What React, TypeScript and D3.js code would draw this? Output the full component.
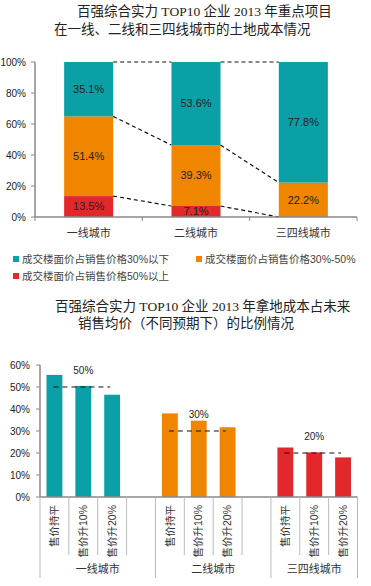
import React, { useRef, useEffect } from "react";
import * as d3 from "d3";

// chart 1: land cost share by city tier (stacked)
const cityTiers = ["一线城市", "二线城市", "三四线城市"];
const above50 = [13.5, 7.1, 0];
const mid30to50 = [51.4, 39.3, 22.2];
const below30 = [35.1, 53.6, 77.8];
const legendNames = [
  "成交楼面价占销售价格30%以下",
  "成交楼面价占销售价格30%-50%",
  "成交楼面价占销售价格50%以上",
];
const stackTicks = [0, 20, 40, 60, 80, 100];

// chart 2: land cost vs future average price
const scenarios = ["售价持平", "售价升10%", "售价升20%"];
const tier1Ratio = [55.5, 50.5, 46.5];
const tier2Ratio = [38.0, 34.7, 31.7];
const tier3Ratio = [22.5, 20.3, 18.0];
const refLines = [50, 30, 20];
const ratioTicks = [0, 10, 20, 30, 40, 50, 60];

const TEAL = "#0b9fa6";
const ORANGE = "#f08600";
const RED = "#e3282c";
const SANS = "'Liberation Sans', 'Noto Sans CJK SC', sans-serif";
const TITLE = "'Liberation Serif', 'Noto Sans CJK SC', serif";

const App = () => {
  const svgRef = useRef<SVGSVGElement>(null);

  useEffect(() => {
    const svg = d3.select(svgRef.current);
    svg.selectAll("*").remove();

    // ---------- titles ----------
    const titles = [
      { t: "百强综合实力 TOP10 企业 2013 年重点项目", x: 77, y: 16 },
      { t: "在一线、二线和三四线城市的土地成本情况", x: 54, y: 34 },
      { t: "百强综合实力 TOP10 企业 2013 年拿地成本占未来", x: 55, y: 311 },
      { t: "销售均价（不同预期下）的比例情况", x: 78, y: 328 },
    ];
    svg
      .append("g")
      .selectAll("text")
      .data(titles)
      .enter()
      .append("text")
      .attr("x", (d) => d.x)
      .attr("y", (d) => d.y)
      .attr("font-family", TITLE)
      .attr("font-size", 13.5)
      .attr("fill", "#222")
      .text((d) => d.t);

    // ---------- chart 1 ----------
    const x1 = d3.scaleBand().domain(cityTiers).range([35, 357]).paddingInner(0.543).paddingOuter(0.2715);
    const y1 = d3.scaleLinear().domain([0, 100]).range([217, 62]);
    const c1 = svg.append("g");

    const rows = cityTiers.map((c, i) => ({ city: c, red: above50[i], orange: mid30to50[i], teal: below30[i] }));
    const keys = ["red", "orange", "teal"];
    const colors: Record<string, string> = { red: RED, orange: ORANGE, teal: TEAL };
    const series = d3.stack<any>().keys(keys)(rows);

    series.forEach((s) => {
      c1.append("g")
        .selectAll("rect")
        .data(s)
        .enter()
        .append("rect")
        .attr("x", (d: any) => x1(d.data.city)!)
        .attr("width", x1.bandwidth())
        .attr("y", (d) => y1(d[1]))
        .attr("height", (d) => y1(d[0]) - y1(d[1]))
        .attr("fill", colors[s.key]);
      c1.append("g")
        .selectAll("text")
        .data(s.filter((d) => d[1] - d[0] > 0))
        .enter()
        .append("text")
        .attr("x", (d: any) => x1(d.data.city)! + x1.bandwidth() / 2)
        .attr("y", (d) => (y1(d[0]) + y1(d[1])) / 2)
        .attr("dy", "0.35em")
        .attr("text-anchor", "middle")
        .attr("font-family", SANS)
        .attr("font-size", 11)
        .attr("fill", "#222")
        .text((d) => `${d[1] - d[0] >= 0 ? (d[1] - d[0]).toFixed(1) : ""}%`);

      // dashed connectors between tops of the same segment
      const tops = s.map((d) => d[1]);
      for (let i = 0; i < tops.length - 1; i++) {
        c1.append("line")
          .attr("x1", x1(cityTiers[i])! + x1.bandwidth())
          .attr("x2", x1(cityTiers[i + 1])!)
          .attr("y1", y1(tops[i]))
          .attr("y2", y1(tops[i + 1]))
          .attr("stroke", "#111")
          .attr("stroke-width", 1.2)
          .attr("stroke-dasharray", "4,3");
      }
    });

    // y axis
    const ax1 = c1.append("g").attr("transform", "translate(35,0)");
    ax1.append("line").attr("y1", y1(0)).attr("y2", y1(100)).attr("stroke", "#888").attr("stroke-width", 1.5);
    stackTicks.forEach((t) => {
      ax1.append("line").attr("x1", -4).attr("x2", 0).attr("y1", y1(t)).attr("y2", y1(t)).attr("stroke", "#888");
      ax1.append("text")
        .attr("x", -9)
        .attr("y", y1(t))
        .attr("dy", "0.35em")
        .attr("text-anchor", "end")
        .attr("font-family", SANS)
        .attr("font-size", 10)
        .attr("fill", "#222")
        .text(`${t}%`);
    });
    // x axis
    c1.append("line").attr("x1", 35).attr("x2", 357).attr("y1", y1(0)).attr("y2", y1(0)).attr("stroke", "#888").attr("stroke-width", 1.5);
    const step1 = x1.step();
    [0, 1, 2, 3].forEach((i) => {
      c1.append("line")
        .attr("x1", 35 + i * step1)
        .attr("x2", 35 + i * step1)
        .attr("y1", y1(0))
        .attr("y2", y1(0) + 4)
        .attr("stroke", "#888");
    });
    c1.append("g")
      .selectAll("text")
      .data(cityTiers)
      .enter()
      .append("text")
      .attr("x", (d) => x1(d)! + x1.bandwidth() / 2)
      .attr("y", 233)
      .attr("dy", "0.35em")
      .attr("text-anchor", "middle")
      .attr("font-family", SANS)
      .attr("font-size", 11)
      .attr("fill", "#333")
      .text((d) => d);

    // legend
    const legendPos = [
      { x: 13, y: 259, c: TEAL },
      { x: 196, y: 259, c: ORANGE },
      { x: 13, y: 276, c: RED },
    ];
    legendPos.forEach((p, i) => {
      c1.append("rect").attr("x", p.x).attr("y", p.y - 3).attr("width", 6).attr("height", 6).attr("fill", p.c);
      c1.append("text")
        .attr("x", p.x + 9)
        .attr("y", p.y)
        .attr("dy", "0.35em")
        .attr("font-family", SANS)
        .attr("font-size", 10.5)
        .attr("fill", "#444")
        .text(legendNames[i]);
    });

    // ---------- chart 2 ----------
    const groups = [tier1Ratio, tier2Ratio, tier3Ratio];
    const groupColors = [TEAL, ORANGE, RED];
    const slots = d3.range(11);
    const x2 = d3.scaleBand<number>().domain(slots).range([40, 357.5]).padding(0);
    const y2 = d3.scaleLinear().domain([0, 60]).range([497, 365]);
    const c2 = svg.append("g");
    const sw = x2.bandwidth();
    const bw = sw * 0.55;

    const bars = groups.flatMap((vals, g) =>
      vals.map((v, j) => ({ slot: g * 4 + j, v, g, label: scenarios[j] }))
    );

    c2.append("g")
      .selectAll("rect")
      .data(bars)
      .enter()
      .append("rect")
      .attr("x", (d) => x2(d.slot)! + (sw - bw) / 2)
      .attr("width", bw)
      .attr("y", (d) => y2(d.v))
      .attr("height", (d) => y2(0) - y2(d.v))
      .attr("fill", (d) => groupColors[d.g]);

    // reference dashed lines + labels
    refLines.forEach((r, g) => {
      const xa = x2(g * 4)! + sw / 2 - 1;
      const xb = x2(g * 4 + 2)! + sw / 2 - 2;
      c2.append("line")
        .attr("x1", xa)
        .attr("x2", xb)
        .attr("y1", y2(r))
        .attr("y2", y2(r))
        .attr("stroke", "#111")
        .attr("stroke-width", 1.2)
        .attr("stroke-dasharray", "5,4");
      c2.append("text")
        .attr("x", x2(g * 4 + 1)! + sw / 2)
        .attr("y", y2(r) - 17)
        .attr("dy", "0.35em")
        .attr("text-anchor", "middle")
        .attr("font-family", SANS)
        .attr("font-size", 10)
        .attr("fill", "#222")
        .text(`${r}%`);
    });

    // y axis
    c2.append("line").attr("x1", 40).attr("x2", 40).attr("y1", y2(0)).attr("y2", y2(60)).attr("stroke", "#888").attr("stroke-width", 1.5);
    ratioTicks.forEach((t) => {
      c2.append("line").attr("x1", 36).attr("x2", 40).attr("y1", y2(t)).attr("y2", y2(t)).attr("stroke", "#888");
      c2.append("text")
        .attr("x", 30)
        .attr("y", y2(t))
        .attr("dy", "0.35em")
        .attr("text-anchor", "end")
        .attr("font-family", SANS)
        .attr("font-size", 10)
        .attr("fill", "#222")
        .text(`${t}%`);
    });

    // x axis with slot separators
    c2.append("line").attr("x1", 40).attr("x2", 357.5).attr("y1", y2(0)).attr("y2", y2(0)).attr("stroke", "#888").attr("stroke-width", 1.5);
    d3.range(12).forEach((i) => {
      const xx = 40 + i * sw;
      const full = i === 0 || i === 4 || i === 8 || i === 11;
      c2.append("line")
        .attr("x1", xx)
        .attr("x2", xx)
        .attr("y1", y2(0))
        .attr("y2", full ? 578 : 555)
        .attr("stroke", "#bbb");
    });
    c2.append("g")
      .selectAll("text")
      .data(bars)
      .enter()
      .append("text")
      .attr("transform", (d) => `translate(${x2(d.slot)! + sw / 2},505) rotate(-90)`)
      .attr("dy", "0.35em")
      .attr("text-anchor", "end")
      .attr("font-family", SANS)
      .attr("font-size", 10.5)
      .attr("fill", "#333")
      .text((d) => d.label);

    const groupEdges = [40, 40 + 4 * sw, 40 + 8 * sw, 357.5];
    c2.append("g")
      .selectAll("text")
      .data(cityTiers)
      .enter()
      .append("text")
      .attr("x", (_, i) => (groupEdges[i] + groupEdges[i + 1]) / 2)
      .attr("y", 569)
      .attr("dy", "0.35em")
      .attr("text-anchor", "middle")
      .attr("font-family", SANS)
      .attr("font-size", 11)
      .attr("fill", "#333")
      .text((d) => d);
  }, []);

  return (
    <svg
      ref={svgRef}
      width={371}
      height={586}
      style={{ position: "absolute", left: 0, top: 0, background: "#fff" }}
    ></svg>
  );
};

export default App;
